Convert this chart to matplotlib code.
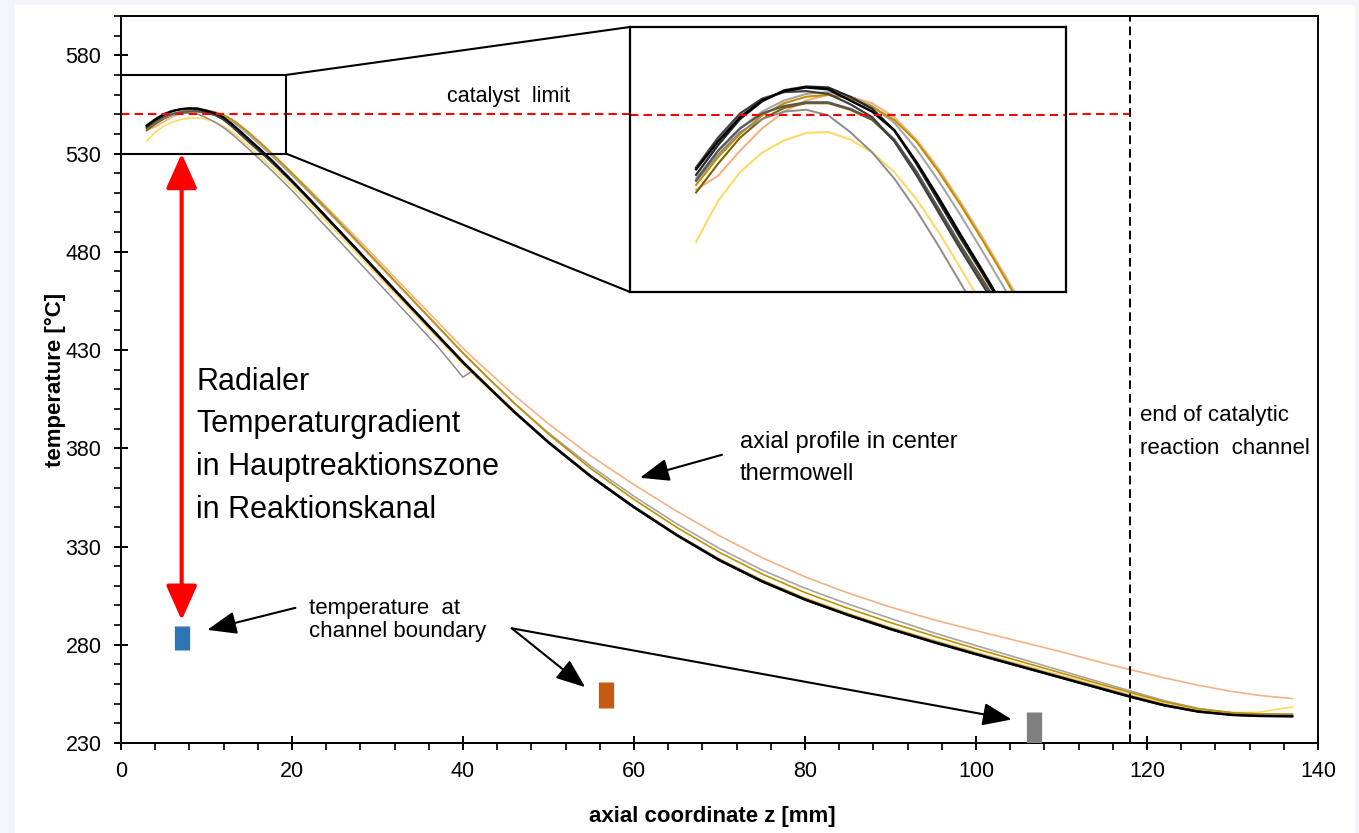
import matplotlib
matplotlib.use("Agg")
import matplotlib.pyplot as plt
from matplotlib.patches import Rectangle, ConnectionPatch
from matplotlib.ticker import MultipleLocator

plt.rcParams['font.family'] = ['Liberation Sans', 'DejaVu Sans']

# axial positions of the thermowell readings [mm]
z = [3, 4, 5, 6, 7, 8, 9, 10, 11, 12, 13, 14, 15, 16, 17, 18, 19, 20,
     22, 25, 28, 31, 34, 37, 40, 41, 43, 46, 50, 55, 60, 65, 70, 75, 80,
     85, 90, 95, 100, 105, 110, 115, 118, 122, 126, 130, 133, 137]

# axial temperature profiles [°C], one list per run
t_yellow = [536.4, 540.8, 543.9, 546.0, 547.3, 548.1, 548.2, 547.4, 546.0, 543.9, 541.0, 537.5,
            533.6, 529.6, 525.7, 521.6, 517.4, 513.2, 504.5, 491.0, 477.4, 463.6, 449.9, 436.2,
            422.6, 418.4, 410.2, 398.0, 382.7, 365.5, 350.2, 336.2, 323.6, 313.0, 304.0, 296.2,
            289.0, 282.5, 276.3, 270.4, 264.4, 258.4, 254.8, 250.2, 247.0, 245.6, 245.6, 248.4]
t_salmon = [542.0, 543.5, 546.2, 548.6, 550.4, 551.6, 552.2, 552.0, 551.3, 549.8, 547.4, 544.3,
            540.7, 536.9, 532.9, 528.8, 524.6, 520.4, 511.8, 498.6, 485.2, 471.6, 458.0, 444.5,
            431.0, 426.8, 418.8, 407.0, 392.5, 376.0, 361.5, 348.0, 335.5, 324.3, 314.6, 306.4,
            299.2, 292.8, 287.2, 281.8, 276.4, 270.6, 267.4, 263.2, 259.4, 256.2, 254.3, 252.6]
t_lightgray = [543.2, 546.2, 548.6, 550.4, 551.6, 552.3, 552.5, 552.0, 551.0, 549.2, 546.4, 543.0,
               539.3, 535.4, 531.4, 527.3, 523.1, 518.9, 510.2, 496.8, 483.2, 469.5, 455.8, 442.0,
               428.3, 424.0, 415.5, 403.0, 387.8, 370.8, 355.6, 341.6, 329.0, 318.0, 308.8, 300.8,
               293.4, 286.2, 279.6, 273.2, 266.8, 260.4, 256.6, 251.6, 247.6, 245.4, 244.9, 244.7]
t_gold = [542.5, 545.5, 548.0, 550.0, 551.3, 552.0, 552.2, 551.8, 550.9, 549.5, 547.2, 544.0,
          540.4, 536.6, 532.6, 528.4, 524.2, 520.0, 511.2, 497.6, 483.8, 470.0, 456.2, 442.4,
          428.6, 424.3, 415.6, 403.0, 387.3, 369.5, 354.0, 339.8, 327.0, 316.0, 306.6, 298.6,
          291.3, 284.5, 278.0, 271.8, 265.6, 259.4, 255.8, 251.0, 247.4, 245.4, 244.8, 244.6]
t_olive = [541.7, 544.8, 547.6, 549.6, 550.8, 551.3, 551.3, 550.6, 549.5, 547.3, 543.9, 540.0,
           536.1, 532.4, 528.6, 524.5, 520.2, 515.9, 507.0, 493.2, 479.3, 465.4, 451.5, 437.8,
           424.0, 419.8, 411.3, 398.8, 383.3, 365.9, 350.4, 336.2, 323.5, 312.7, 303.5, 295.6,
           288.4, 281.8, 275.6, 269.6, 263.6, 257.6, 254.0, 249.5, 246.3, 244.5, 244.1, 244.0]
t_midgray = [542.9, 545.8, 548.2, 549.6, 550.4, 550.6, 550.0, 548.2, 546.0, 543.2, 539.8, 536.0,
             532.0, 528.0, 524.0, 519.8, 515.5, 511.2, 502.0, 488.0, 474.0, 460.0, 446.0, 432.0,
             416.2, 419.0, 411.0, 398.6, 383.0, 365.6, 350.2, 336.0, 323.3, 312.5, 303.4, 295.6,
             288.5, 282.0, 275.8, 269.8, 263.8, 257.8, 254.2, 249.6, 246.3, 244.6, 244.2, 244.0]
t_gray59 = [543.0, 546.2, 548.6, 550.2, 551.0, 551.4, 551.4, 550.7, 549.6, 547.4, 544.0, 540.0,
            536.0, 532.2, 528.4, 524.3, 520.0, 515.7, 506.8, 493.0, 479.0, 465.0, 451.2, 437.4,
            423.6, 419.4, 410.9, 398.4, 382.9, 365.4, 349.9, 335.7, 323.0, 312.2, 303.0, 295.2,
            288.0, 281.4, 275.2, 269.2, 263.2, 257.2, 253.6, 249.2, 246.0, 244.3, 243.8, 243.7]
t_gray40 = [544.4, 547.6, 550.2, 551.8, 552.5, 552.6, 552.3, 551.2, 549.8, 547.2, 543.6, 539.6,
            535.6, 531.8, 528.0, 523.9, 519.6, 515.3, 506.4, 492.6, 478.8, 464.8, 451.0, 437.2,
            423.5, 419.3, 410.8, 398.3, 382.8, 365.3, 349.8, 335.6, 322.8, 312.0, 302.8, 295.0,
            287.8, 281.2, 275.0, 269.0, 263.0, 257.0, 253.4, 249.0, 245.8, 244.1, 243.6, 243.4]
t_gray26 = [543.6, 546.8, 549.6, 551.5, 552.7, 553.1, 553.0, 552.0, 550.7, 548.4, 544.8, 540.8,
            536.8, 533.0, 529.1, 524.9, 520.6, 516.3, 507.3, 493.4, 479.5, 465.6, 451.7, 437.9,
            424.1, 419.8, 411.3, 398.8, 383.3, 365.8, 350.3, 336.0, 323.2, 312.4, 303.2, 295.4,
            288.2, 281.6, 275.4, 269.4, 263.4, 257.4, 253.8, 249.4, 246.1, 244.4, 243.9, 243.7]
t_black = [544.2, 547.2, 549.8, 551.6, 552.6, 553.0, 552.8, 551.6, 550.4, 548.4, 545.0, 541.2,
           537.2, 533.3, 529.3, 525.0, 520.6, 516.2, 507.0, 493.2, 479.3, 465.3, 451.4, 437.6,
           423.8, 419.5, 411.0, 398.5, 383.0, 365.5, 350.0, 335.8, 323.0, 312.2, 303.0, 295.2,
           288.0, 281.4, 275.2, 269.2, 263.2, 257.2, 253.6, 249.2, 246.0, 244.3, 243.8, 243.6]

profiles = [t_yellow, t_salmon, t_lightgray, t_gold, t_olive, t_midgray, t_gray59, t_gray40, t_gray26, t_black]
colors = ['#ffd966', '#f4b183', '#a6a6a6', '#bf9000', '#7f6000', '#8c8c8c', '#595959', '#404040', '#262626', '#000000']
widths = [1.2, 1.2, 1.2, 1.2, 1.2, 1.1, 1.3, 1.3, 1.3, 1.5]

# wall temperature at the channel boundary: position and measured range
z_wall = [7.1, 56.7, 106.8]
t_wall_lo = [277.4, 247.9, 228.0]
t_wall_hi = [289.6, 261.1, 245.8]
wall_colors = ['#2e75b6', '#c55a11', '#808080']

t_limit = 550
z_end = 118

fig = plt.figure(figsize=(13.59, 8.33), dpi=100)
fig.patch.set_facecolor('#f3f5f9')
fig.add_artist(Rectangle((15 / 1359, 0), 1340 / 1359, 828 / 833, transform=fig.transFigure,
                         facecolor='white', edgecolor='none', zorder=-10))

ax = fig.add_axes([0.0890, 0.1080, 0.8808, 0.8728])
ax.set_facecolor('white')
for t, c, w in zip(profiles, colors, widths):
    ax.plot(z, t, color=c, lw=w, zorder=3)

ax.vlines(z_wall, t_wall_lo, t_wall_hi, colors=wall_colors, lw=11, zorder=4)

ax.hlines(t_limit, 0, z_end, colors='red', linestyles=(0, (4, 2.5)), lw=1.5, zorder=5)
ax.axvline(z_end, color='black', ls=(0, (4.5, 2.5)), lw=1.4, zorder=5)

ax.set_xlim(0, 140)
ax.set_ylim(230, 600)
ax.xaxis.set_major_locator(MultipleLocator(20))
ax.xaxis.set_minor_locator(MultipleLocator(4))
ax.yaxis.set_minor_locator(MultipleLocator(10))
ax.set_yticks([230, 280, 330, 380, 430, 480, 530, 580])
ax.tick_params(which='major', direction='inout', length=10, width=1.4, labelsize=15.5)
ax.tick_params(which='minor', direction='out', length=5, width=1.2)
ax.tick_params(axis='y', which='major', pad=9)
ax.tick_params(axis='x', which='major', pad=8)
for s in ax.spines.values():
    s.set_linewidth(1.4)

ax.set_xlabel('axial coordinate z [mm]', fontsize=16, fontweight='bold')
ax.set_ylabel('temperature [°C]', fontsize=16, fontweight='bold')
ax.xaxis.set_label_coords(0.494, -0.087)
ax.yaxis.set_label_coords(-0.046, 0.5)

# zoom window around the hot spot
ax.add_patch(Rectangle((0, 530), 19.3, 40, fill=False, edgecolor='black', lw=1.5, zorder=6))

# radial gradient between centre line and wall
ax.annotate('', xy=(7.1, 530), xytext=(7.1, 292.5),
            arrowprops=dict(arrowstyle='<|-|>,head_length=0.85,head_width=0.38', color='red',
                            lw=3, mutation_scale=25, shrinkA=0, shrinkB=0), zorder=6)
ax.text(8.8, 421.5, 'Radialer\nTemperaturgradient\nin Hauptreaktionszone\nin Reaktionskanal',
        fontsize=22, va='top', ha='left', linespacing=1.55)

ax.text(38.1, 559, 'catalyst  limit', fontsize=15.5, va='center', ha='left')

arrow_kw = dict(arrowstyle='-|>,head_length=0.9,head_width=0.35', color='black', lw=1.5,
                mutation_scale=20, shrinkA=0, shrinkB=0)
ax.text(72.4, 375.0, 'axial profile in center\nthermowell', fontsize=17, va='center', ha='left',
        linespacing=1.6)
ax.annotate('', xy=(60.7, 365.0), xytext=(70.3, 376.7), arrowprops=arrow_kw)

ax.text(22.0, 292.5, 'temperature  at\nchannel boundary', fontsize=16, va='center', ha='left',
        linespacing=1.15)
ax.annotate('', xy=(10.1, 287.6), xytext=(20.4, 298.8), arrowprops=arrow_kw)
ax.annotate('', xy=(54.3, 258.4), xytext=(45.7, 288.4), arrowprops=arrow_kw)
ax.annotate('', xy=(104.2, 242.0), xytext=(45.7, 288.4), arrowprops=arrow_kw)

ax.text(119.2, 388.2, 'end of catalytic\nreaction  channel', fontsize=16, va='center', ha='left',
        linespacing=1.75)

# magnified hot-spot region
axins = fig.add_axes([0.4636, 0.6495, 0.3208, 0.3181])
for t, c, w in zip(profiles, colors, widths):
    axins.plot(z, t, color=c, lw=w + 0.3)
axins.hlines(t_limit, 0, 20, colors='red', linestyles=(0, (4, 2.5)), lw=1.5)
axins.set_xlim(0, 19.8)
axins.set_ylim(531, 559.5)
axins.set_xticks([])
axins.set_yticks([])
for s in axins.spines.values():
    s.set_linewidth(1.6)

for xy_main, xy_ins in [((19.3, 570), (0, 1)), ((19.3, 530), (0, 0))]:
    con = ConnectionPatch(xyA=xy_main, coordsA=ax.transData, xyB=xy_ins, coordsB=axins.transAxes,
                          color='black', lw=1.5)
    fig.add_artist(con)

fig.savefig('out.png', dpi=100, facecolor=fig.get_facecolor())
